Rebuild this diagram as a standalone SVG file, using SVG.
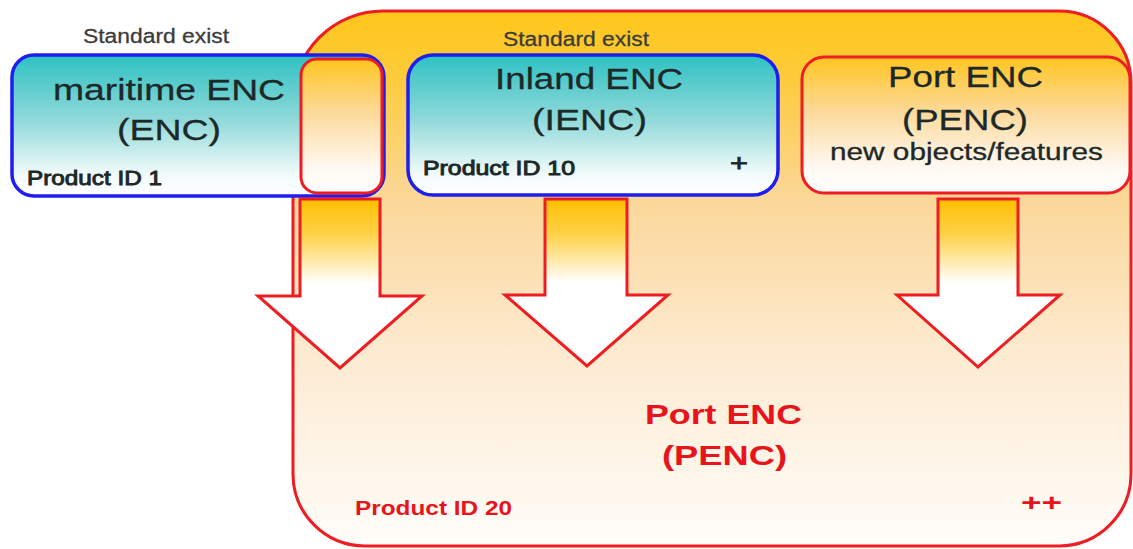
<svg xmlns="http://www.w3.org/2000/svg" width="1133" height="549" viewBox="0 0 1133 549">
  <defs>
    <linearGradient id="gBig" x1="0" y1="0" x2="0" y2="1">
      <stop offset="0" stop-color="#FFC61A"/>
      <stop offset="0.12" stop-color="#FDCB3A"/>
      <stop offset="0.35" stop-color="#FBD798"/>
      <stop offset="0.65" stop-color="#FDEBD2"/>
      <stop offset="1" stop-color="#FFFDFA"/>
    </linearGradient>
    <linearGradient id="gTeal" x1="0" y1="0" x2="0" y2="1">
      <stop offset="0" stop-color="#2EC1C3"/>
      <stop offset="0.45" stop-color="#8ED8D8"/>
      <stop offset="0.85" stop-color="#F2FBFB"/>
      <stop offset="1" stop-color="#FFFFFF"/>
    </linearGradient>
    <linearGradient id="gGold" x1="0" y1="0" x2="0" y2="1">
      <stop offset="0" stop-color="#FFC51F"/>
      <stop offset="0.4" stop-color="#FCD99A"/>
      <stop offset="0.8" stop-color="#FFF8F0"/>
      <stop offset="1" stop-color="#FFFFFF"/>
    </linearGradient>
    <linearGradient id="gArrow" x1="0" y1="0" x2="0" y2="1">
      <stop offset="0" stop-color="#FFC000"/>
      <stop offset="0.22" stop-color="#FFD24D"/>
      <stop offset="0.5" stop-color="#FFFFFF"/>
      <stop offset="1" stop-color="#FFFFFF"/>
    </linearGradient>
    <style>
      .red { stroke: #EE1D23; stroke-width: 3; }
      .blue { stroke: #1E1EF0; stroke-width: 3.5; }
      .arrow { fill: url(#gArrow); stroke: #EE1D23; stroke-width: 3; stroke-linejoin: miter; }
      text { font-family: "Liberation Sans", Arial, sans-serif; }
      .dark { fill: #1D2828; }
      .std { fill: #3C3C3C; font-size: 20px; stroke: #3C3C3C; stroke-width: 0.3; }
      .big { font-size: 30px; stroke: #1D2828; stroke-width: 0.3; }
      .pid { font-size: 20px; stroke: #1D2828; stroke-width: 0.9; }
      .rtxt { fill: #E8141C; font-weight: bold; }
    </style>
  </defs>
  <rect width="1133" height="549" fill="#FFFFFF"/>

  <g id="penc-product">
    <path d="M383,11 H1059 A72,72 0 0 1 1131,83 V474 A72,72 0 0 1 1059,546 H365 A72,72 0 0 1 293,474 V101 A90,90 0 0 1 383,11 Z" fill="url(#gBig)" class="red"/>
    <text class="rtxt" x="645" y="424" font-size="28" textLength="157" lengthAdjust="spacingAndGlyphs">Port ENC</text>
    <text class="rtxt" x="662" y="465" font-size="28" textLength="125" lengthAdjust="spacingAndGlyphs">(PENC)</text>
    <text class="rtxt" x="355" y="515" font-size="20" textLength="157" lengthAdjust="spacingAndGlyphs">Product ID 20</text>
    <text class="rtxt" x="1021" y="511" font-size="24" textLength="41" lengthAdjust="spacingAndGlyphs">++</text>
  </g>

  <g id="std-label-1">
    <text class="std" x="83" y="43" textLength="146" lengthAdjust="spacingAndGlyphs">Standard exist</text>
  </g>
  <g id="std-label-2">
    <text class="std" x="503" y="46" textLength="146" lengthAdjust="spacingAndGlyphs">Standard exist</text>
  </g>

  <g id="maritime-enc">
    <rect x="12" y="55" width="372" height="141" rx="22" ry="22" fill="url(#gTeal)" class="blue"/>
    <rect x="301" y="59" width="81" height="134" rx="16" ry="16" fill="url(#gGold)" class="red"/>
    <text class="dark big" x="53" y="100" textLength="232" lengthAdjust="spacingAndGlyphs">maritime ENC</text>
    <text class="dark big" x="117" y="140" textLength="104" lengthAdjust="spacingAndGlyphs">(ENC)</text>
    <text class="dark pid" x="27" y="185" textLength="135" lengthAdjust="spacingAndGlyphs">Product ID 1</text>
  </g>

  <g id="inland-enc">
    <rect x="408" y="55" width="370" height="140" rx="25" ry="25" fill="url(#gTeal)" class="blue"/>
    <text class="dark big" x="495" y="89" textLength="188" lengthAdjust="spacingAndGlyphs">Inland ENC</text>
    <text class="dark big" x="532" y="130" textLength="115" lengthAdjust="spacingAndGlyphs">(IENC)</text>
    <text class="dark pid" x="423" y="175" textLength="152" lengthAdjust="spacingAndGlyphs">Product ID 10</text>
    <text class="dark" x="730" y="171" font-size="24" stroke="#1D2828" stroke-width="0.8" textLength="18" lengthAdjust="spacingAndGlyphs">+</text>
  </g>

  <g id="port-enc">
    <rect x="802" y="57" width="328" height="136" rx="22" ry="22" fill="url(#gGold)" class="red"/>
    <text class="dark big" x="888" y="87" textLength="155" lengthAdjust="spacingAndGlyphs">Port ENC</text>
    <text class="dark big" x="902" y="130" textLength="126" lengthAdjust="spacingAndGlyphs">(PENC)</text>
    <text class="dark" x="830" y="160" font-size="23" stroke="#1D2828" stroke-width="0.3" textLength="273" lengthAdjust="spacingAndGlyphs">new objects/features</text>
  </g>

  <g id="connectors">
    <polygon class="arrow" points="300,199 380,199 380,296 422,296 340,368 258,296 300,296"/>
    <polygon class="arrow" points="545,199 627,199 627,295 668,295 587,366 505,295 545,295"/>
    <polygon class="arrow" points="938,199 1018,199 1018,295 1060,295 978,367 897,295 938,295"/>
  </g>
</svg>
